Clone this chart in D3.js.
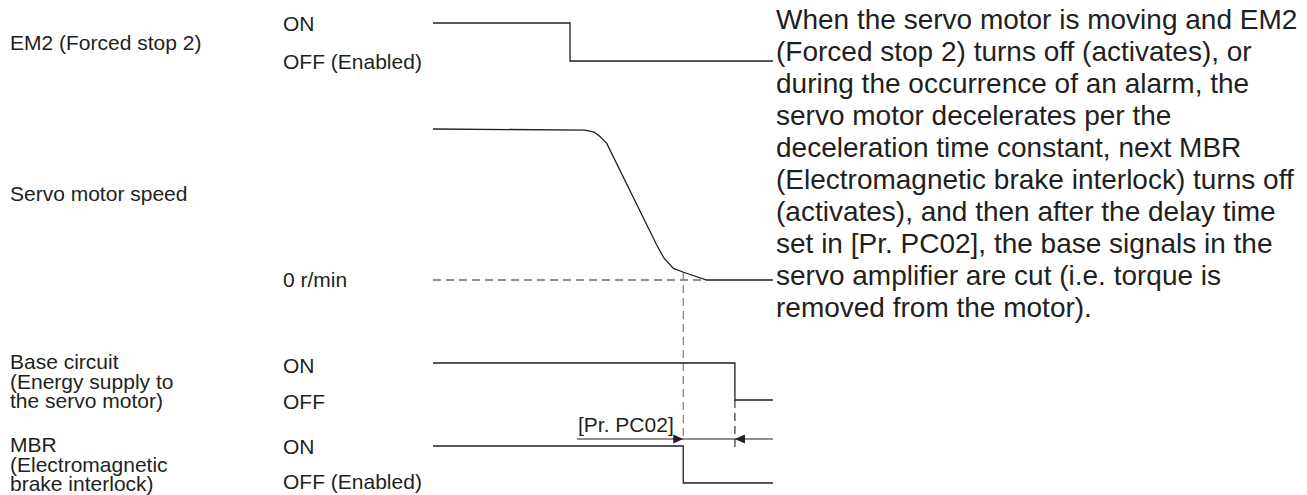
<!DOCTYPE html>
<html><head><meta charset="utf-8">
<script src="https://cdn.jsdelivr.net/npm/d3@7"></script>
<style>body{margin:0;background:#fff}svg text{font-family:"Liberation Sans",Arial,sans-serif;fill:#231f20}</style>
</head><body><svg id="c" width="1307" height="495"></svg>
<script>
// time axis 0..100 (arbitrary units)
const em2Signal   = [[0,1],[40.3,1],[40.3,0],[100,0]];
const speedCurve  = [[0,100],[44.7,99.3],[47.4,98],[49.1,95],[51.1,90.5],[65.8,23.2],[67.9,14.6],[70.7,7.7],[73.5,5.3],[80.5,0],[100,0]];
const baseSignal  = [[0,1],[88.8,1],[88.8,0],[100,0]];
const mbrSignal   = [[0,1],[73.6,1],[73.6,0],[100,0]];
const tMbrOff = 73.6, tBaseOff = 88.8, tZeroDashEnd = 80.5;
const rowLabels = [
  {lines:["EM2 (Forced stop 2)"], y:50},
  {lines:["Servo motor speed"], y:201},
  {lines:["Base circuit","(Energy supply to","the servo motor)"], y:369},
  {lines:["MBR","(Electromagnetic","brake interlock)"], y:452}
];
const stateLabels = [
  {t:"ON", y:31},{t:"OFF (Enabled)", y:69},{t:"0 r/min", y:287},
  {t:"ON", y:373},{t:"OFF", y:409},{t:"ON", y:454},{t:"OFF (Enabled)", y:489}
];
const paragraph = [
  "When the servo motor is moving and EM2",
  "(Forced stop 2) turns off (activates), or",
  "during the occurrence of an alarm, the",
  "servo motor decelerates per the",
  "deceleration time constant, next MBR",
  "(Electromagnetic brake interlock) turns off",
  "(activates), and then after the delay time",
  "set in [Pr. PC02], the base signals in the",
  "servo amplifier are cut (i.e. torque is",
  "removed from the motor)."
];
const delayLabel = "[Pr. PC02]";

const svg = d3.select("#c");
const ink = "#231f20";
const x = d3.scaleLinear().domain([0,100]).range([433,773]);
const yEm2 = d3.scaleLinear().domain([0,1]).range([61,23]);
const ySpd = d3.scaleLinear().domain([0,100]).range([280,129]);
const yBase = d3.scaleLinear().domain([0,1]).range([400,363]);
const yMbr = d3.scaleLinear().domain([0,1]).range([483,446]);

function sig(data, y){
  svg.append("path").datum(data)
    .attr("d", d3.line().x(d=>x(d[0])).y(d=>y(d[1])))
    .attr("fill","none").attr("stroke",ink).attr("stroke-width",1.3);
}
// zero dashed line
svg.append("line").attr("x1",x(0)).attr("x2",x(tZeroDashEnd)).attr("y1",ySpd(0)).attr("y2",ySpd(0))
  .attr("stroke",ink).attr("stroke-width",1.1).attr("stroke-dasharray","8,5");
// vertical dashed guides
svg.append("line").attr("x1",x(tMbrOff)).attr("x2",x(tMbrOff)).attr("y1",ySpd(5.3)).attr("y2",439)
  .attr("stroke","#6d6e71").attr("stroke-width",1.1).attr("stroke-dasharray","8,5");
svg.append("line").attr("x1",x(tBaseOff)).attr("x2",x(tBaseOff)).attr("y1",yBase(0)).attr("y2",447)
  .attr("stroke",ink).attr("stroke-width",1.1).attr("stroke-dasharray","8,5");

sig(em2Signal, yEm2);
sig(speedCurve, ySpd);
sig(baseSignal, yBase);
sig(mbrSignal, yMbr);

// delay dimension line
const yArr = 439;
svg.append("line").attr("x1",577).attr("x2",x(100)).attr("y1",yArr).attr("y2",yArr)
  .attr("stroke",ink).attr("stroke-width",1);
const ax1 = x(tMbrOff), ax2 = x(tBaseOff);
svg.append("path").attr("d",`M${ax1},${yArr}L${ax1-10},${yArr-4.5}L${ax1-10},${yArr+4.5}Z`).attr("fill",ink);
svg.append("path").attr("d",`M${ax2},${yArr}L${ax2+10},${yArr-4.5}L${ax2+10},${yArr+4.5}Z`).attr("fill",ink);
svg.append("text").attr("x",578).attr("y",432).attr("font-size",21).text(delayLabel);

rowLabels.forEach(r=>{
  const t = svg.append("text").attr("x",10).attr("y",r.y).attr("font-size",21);
  r.lines.forEach((l,i)=>t.append("tspan").attr("x",10).attr("dy",i?19.5:0).text(l));
});
stateLabels.forEach(s=>svg.append("text").attr("x",283).attr("y",s.y).attr("font-size",21).text(s.t));
paragraph.forEach((l,i)=>svg.append("text").attr("x",776).attr("y",29+32*i).attr("font-size",28).text(l));
</script></body></html>
